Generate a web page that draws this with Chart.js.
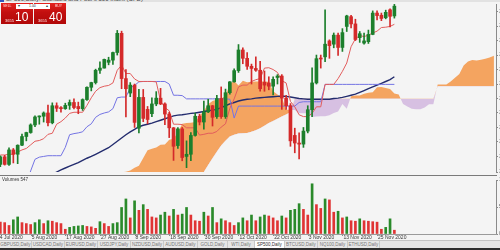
<!DOCTYPE html>
<html><head><meta charset="utf-8">
<script src="https://cdn.jsdelivr.net/npm/chart.js@4.4.1/dist/chart.umd.min.js"></script>
<style>
html,body{margin:0;padding:0;}
body{width:500px;height:250px;position:relative;overflow:hidden;background:#f4f4f4;font-family:"Liberation Sans",Arial,sans-serif;}
#title{position:absolute;left:0;top:0;width:500px;height:2px;background:#e2e2e2;overflow:hidden;z-index:3;}
#title span{position:absolute;left:6px;top:-4px;font-size:6px;color:#444;white-space:nowrap;}
#title i{position:absolute;left:0;top:0;width:4px;height:2px;background:#3355bb;}
#pc{position:absolute;left:0;top:0;}
#vc{position:absolute;left:0;top:176px;}
.hl{position:absolute;left:0;height:1px;width:497px;background:#8a8a8a;}
#otp{position:absolute;left:1px;top:3px;width:65px;height:21px;z-index:4;}
.box{position:absolute;top:0;width:32px;height:21px;background:linear-gradient(#e5221f,#c20f0f 45%,#b10808);color:#fff;}
.lab{position:absolute;top:1px;font-size:3.5px;color:#ffd0d0;}
.small{position:absolute;top:15px;font-size:4px;color:#ffe6e6;}
.big{position:absolute;top:8px;font-size:12px;line-height:12px;color:#fff;}
#lot{position:absolute;left:15px;top:1px;width:34px;height:5px;background:#fff;font-size:3.5px;line-height:5px;color:#333;z-index:5;}
#lot span{position:absolute;top:0;}
#vlab{position:absolute;left:2px;top:177px;font-size:4.5px;color:#333;z-index:3;}
#tabs{position:absolute;left:0;top:240px;width:500px;height:8px;background:#e6e6e6;border-top:1px solid #c4c4c4;box-sizing:border-box;}
.tab{position:absolute;top:0;height:7px;font-size:4.5px;line-height:7px;color:#777;text-align:center;border-right:1px solid #c8c8c8;box-sizing:border-box;white-space:nowrap;overflow:hidden;}
.tab.on{background:#fff;color:#333;}
#foot{position:absolute;left:0;top:248px;width:500px;height:2px;background:#2e2e2e;}
</style></head>
<body>
<div id="title"><i></i><span>SP500,Daily: Standard and Poor's 500 Index (CFD)</span></div>
<canvas id="pc" width="500" height="176"></canvas>
<div class="hl" style="top:175px;background:#7a7a7a"></div>
<canvas id="vc" width="500" height="64"></canvas>
<div class="hl" style="top:234px;background:#9a9a9a"></div>
<div id="vlab">Volumes 547</div>
<div id="otp">
  <div class="box" style="left:0"><span class="lab" style="left:2px">SELL</span><span class="small" style="left:4px">3655</span><span class="big" style="left:14px">10</span></div>
  <div class="box" style="left:33px"><span class="lab" style="left:21px">BUY</span><span class="small" style="left:4px">3655</span><span class="big" style="left:15px">40</span></div>
  <div id="lot"><span style="left:2px">&#9662;</span><span style="left:13px">1.00</span><span style="left:30px">&#9652;</span></div>
</div>
<div id="tabs">
  <div class="tab" style="left:0;width:32px">GBPUSD,Daily</div>
  <div class="tab" style="left:32px;width:33px">USDCAD,Daily</div>
  <div class="tab" style="left:65px;width:33px">EURUSD,Daily</div>
  <div class="tab" style="left:98px;width:33px">USDJPY,Daily</div>
  <div class="tab" style="left:131px;width:33px">NZDUSD,Daily</div>
  <div class="tab" style="left:164px;width:34px">AUDUSD,Daily</div>
  <div class="tab" style="left:198px;width:30px">GOLD,Daily</div>
  <div class="tab" style="left:228px;width:27px">WTI,Daily</div>
  <div class="tab on" style="left:255px;width:30px">SP500,Daily</div>
  <div class="tab" style="left:285px;width:33px">BTCUSD,Daily</div>
  <div class="tab" style="left:318px;width:30px">NQ100,Daily</div>
  <div class="tab" style="left:348px;width:32px">ETHUSD,Daily</div>
</div>
<div id="foot"></div>
<script>
const dates = ['27 Jul 2020','28 Jul 2020','29 Jul 2020','30 Jul 2020','31 Jul 2020','3 Aug 2020','4 Aug 2020','5 Aug 2020','6 Aug 2020','7 Aug 2020',
'10 Aug 2020','11 Aug 2020','12 Aug 2020','13 Aug 2020','14 Aug 2020','17 Aug 2020','18 Aug 2020','19 Aug 2020','20 Aug 2020','21 Aug 2020',
'24 Aug 2020','25 Aug 2020','26 Aug 2020','27 Aug 2020','28 Aug 2020','31 Aug 2020','1 Sep 2020','2 Sep 2020','3 Sep 2020','4 Sep 2020',
'7 Sep 2020','8 Sep 2020','9 Sep 2020','10 Sep 2020','11 Sep 2020','14 Sep 2020','15 Sep 2020','16 Sep 2020','17 Sep 2020','18 Sep 2020',
'21 Sep 2020','22 Sep 2020','23 Sep 2020','24 Sep 2020','25 Sep 2020','28 Sep 2020','29 Sep 2020','30 Sep 2020','1 Oct 2020','2 Oct 2020',
'5 Oct 2020','6 Oct 2020','7 Oct 2020','8 Oct 2020','9 Oct 2020','12 Oct 2020','13 Oct 2020','14 Oct 2020','15 Oct 2020','16 Oct 2020',
'19 Oct 2020','20 Oct 2020','21 Oct 2020','22 Oct 2020','23 Oct 2020','26 Oct 2020','27 Oct 2020','28 Oct 2020','29 Oct 2020','30 Oct 2020',
'2 Nov 2020','3 Nov 2020','4 Nov 2020','5 Nov 2020','6 Nov 2020','9 Nov 2020','10 Nov 2020','11 Nov 2020','12 Nov 2020','13 Nov 2020',
'16 Nov 2020','17 Nov 2020','18 Nov 2020','19 Nov 2020','20 Nov 2020','23 Nov 2020','24 Nov 2020','25 Nov 2020','26 Nov 2020','27 Nov 2020',
'30 Nov 2020','1 Dec 2020'];

const open = [3218,3239,3218,3258,3246,3271,3295,3306,3327,3349, 3351,3360,3333,3380,3373,3372,3381,3389,3378,3372,
3397,3431,3444,3478,3484,3500,3506,3527,3580,3455, 3415,3437,3318,3403,3370,3358,3385,3401,3385,3357,
3319,3270,3316,3240,3246,3298,3351,3335,3363,3380, 3350,3400,3350,3416,3446,3477,3534,3511,3489,3483,
3478,3445,3443,3434,3458,3462,3401,3380,3298,3277, 3274,3310,3369,3443,3510,3515,3559,3550,3575,3541,
3599,3626,3606,3568,3553,3557,3577,3636,3630,3623, 3645,3628];
const high = [3242,3243,3264,3262,3272,3302,3307,3330,3352,3352, 3363,3382,3388,3388,3378,3387,3396,3399,3390,3399,
3432,3445,3481,3501,3509,3514,3528,3588,3586,3480, 3444,3440,3425,3425,3378,3402,3419,3428,3388,3362,
3320,3320,3320,3283,3306,3360,3357,3393,3398,3381, 3409,3432,3426,3447,3482,3549,3540,3527,3495,3515,
3503,3476,3460,3460,3466,3466,3409,3386,3318,3305, 3320,3380,3485,3520,3520,3645,3562,3581,3581,3593,
3630,3630,3619,3585,3581,3589,3642,3642,3636,3644, 3648,3660];
const low = [3212,3216,3215,3222,3220,3270,3283,3304,3322,3329, 3335,3324,3330,3364,3362,3370,3370,3371,3358,3367,
3395,3421,3440,3469,3484,3493,3494,3520,3427,3349, 3405,3320,3305,3336,3330,3350,3380,3383,3328,3292,
3229,3262,3228,3209,3228,3296,3327,3315,3361,3324, 3345,3345,3345,3412,3445,3472,3496,3480,3440,3475,
3420,3420,3424,3410,3440,3370,3370,3268,3250,3233, 3265,3305,3350,3440,3484,3502,3511,3540,3519,3530,
3585,3595,3560,3555,3550,3552,3576,3617,3615,3620, 3598,3622];
const close = [3239,3218,3258,3246,3271,3295,3306,3327,3349,3351, 3360,3333,3380,3373,3372,3381,3389,3375,3372,3397,
3431,3444,3478,3484,3508,3506,3527,3580,3455,3427, 3437,3334,3403,3345,3342,3385,3401,3385,3357,3319,
3268,3316,3237,3246,3298,3351,3335,3363,3380,3348, 3400,3350,3416,3446,3477,3534,3511,3489,3483,3478,
3427,3437,3434,3453,3462,3401,3380,3283,3277,3274, 3310,3369,3443,3510,3509,3550,3546,3575,3541,3582,
3628,3606,3563,3579,3559,3577,3636,3629,3621,3638, 3627,3655];

const volume = [25000,24000,18000,30000,36000,24000,22000,20000,24000,30000,
22000,28000,27000,24000,22000,10000,14000,16000,17000,18000,
16000,15000,12000,26000,22000,16000,22000,24000,56000,74000,
34000,70000,50000,62000,52000,36000,34000,40000,46000,38000,
52000,40000,42000,56000,40000,28000,27000,46000,38000,56000,
24000,32000,28000,24000,18000,24000,34000,28000,40000,28000,
36000,40000,38000,34000,28000,38000,34000,50000,52000,64000,
52000,40000,106000,62000,54000,74000,72000,46000,48000,34000,
36000,28000,27000,32000,28000,27000,26000,25000,10000,14000,
32000,8000];

const tenkan = [3244,3244,3246,3246,3252,3258,3262,3272,3282,3284,
3289,3301,3304,3329,3336,3346,3359,3362,3362,3362,
3381,3402,3420,3430,3434,3436,3443,3478,3492,3469,
3469,3454,3447,3447,3447,3447,3446,3393,3375,3366,
3329,3329,3328,3319,3319,3319,3299,3301,3304,3304,
3309,3321,3330,3373,3399,3432,3437,3437,3447,3452,
3455,3484,3485,3480,3472,3449,3443,3392,3377,3355,
3350,3350,3359,3377,3377,3439,3439,3439,3455,3475,
3498,3543,3565,3574,3571,3575,3581,3586,3596,3597,
3599,3605];
const kijun = [3142,3142,3145,3150,3150,3160,3165,3200,3232,3238,
3240,3242,3242,3242,3242,3265,3300,3303,3305,3308,
3322,3330,3348,3356,3360,3363,3372,3402,3404,3404,
3429,3436,3446,3447,3447,3447,3447,3447,3447,3440,
3409,3409,3408,3399,3399,3399,3399,3399,3399,3399,
3399,3399,3399,3398,3346,3379,3379,3379,3379,3379,
3379,3379,3379,3379,3379,3379,3379,3379,3379,3389,
3391,3391,3391,3391,3391,3439,3439,3439,3439,3439,
3439,3439,3439,3439,3439,3439,3439,3439,3439,3439,
3439,3439];
const maStart = 12;
const ma = [3190,3197,3203,3208,3213,3218,3223,3229,3235,3240,
3246,3252,3258,3264,3273,3282,3291,3300,3308,3315,
3322,3326,3329,3332,3336,3340,3344,3348,3352,3354,
3355,3357,3359,3360,3362,3364,3366,3368,3370,3375,
3380,3385,3389,3393,3396,3398,3399,3401,3402,3403,
3404,3405,3406,3407,3406,3404,3402,3400,3399,3398,
3398,3398,3398,3398,3398,3400,3401,3403,3406,3409,
3412,3417,3422,3427,3432,3437,3442,3447,3452,3460];
const spanStart = 26;
const spanA = [3193,3193,3196,3198,3201,3209,3214,3236,3257,3261,
3265,3272,3273,3286,3289,3306,3330,3332,3333,3335,
3352,3366,3384,3393,3397,3400,3407,3440,3448,3436,
3449,3445,3446,3447,3447,3447,3446,3420,3411,3403,
3369,3369,3368,3359,3359,3359,3349,3350,3351,3351,
3354,3360,3364,3385,3372,3406,3408,3408,3413,3416,
3417,3431,3432,3429,3426,3414,3411,3385,3378,3372,
3370,3370,3375,3384,3384,3439,3439,3439,3447,3457,
3468,3491,3502,3506,3505,3507,3510,3513,3518];
const spanB = [3170,3170,3170,3170,3170,3170,3170,3170,3170,3170,
3170,3170,3170,3170,3170,3170,3170,3170,3170,3170,
3170,3197,3216,3235,3253,3270,3283,3295,3300,3303,
3304,3305,3308,3312,3318,3325,3332,3338,3344,3350,
3356,3362,3399,3399,3399,3399,3399,3399,3399,3399,
3399,3399,3399,3399,3399,3399,3399,3399,3399,3399,
3399,3399,3399,3399,3399,3399,3399,3399,3399,3399,
3399,3399,3399,3399,3399,3434,3434,3434,3434,3434,
3434,3434,3434,3434,3434,3434,3434,3434,3434];

const labelIdx = [-1,7,15,23,31,39,47,55,63,71,79,87];
const labelText = ['24 Jul 2020','5 Aug 2020','17 Aug 2020','27 Aug 2020','8 Sep 2020','18 Sep 2020','30 Sep 2020','12 Oct 2020','22 Oct 2020','3 Nov 2020','13 Nov 2020','25 Nov 2020'];

const X_MIN = -0.08, X_MAX = 114.47;
const UP = '#1c7f2c', DN = '#d42a2a';
const VUP = '#2a8a2a', VDN = '#e03434';

const bodies = open.map((o,i)=>({x:i, y:[Math.min(o,close[i]), Math.max(o,close[i])]}));
const wicks = low.map((l,i)=>({x:i, y:[l, high[i]]}));
const candleColors = open.map((o,i)=> close[i] >= o ? UP : DN);
const pts = (arr, start) => arr.map((v,i)=>({x:i+start, y:v}));
const volColors = volume.map((v,i)=> (i>0 && v>volume[i-1]) ? VUP : VDN);

const rightAxis = (min, max, step) => ({
  position:'right', min:min, max:max,
  afterFit: s => { s.width = 4; },
  ticks:{stepSize:step, font:{size:5}, color:'#555', padding:1},
  grid:{drawOnChartArea:false, tickLength:2, color:'#888'},
  border:{display:true, color:'#8a8a8a'}
});

// draws the time-scale labels at the x scale's pixel for each labelled bar
const dateLabels = {
  id:'dateLabels',
  afterDraw(chart){
    const xs = chart.scales.x, ctx = chart.ctx, y0 = chart.chartArea.bottom + 1;
    ctx.save();
    ctx.font = '5px "Liberation Sans", Arial, sans-serif';
    ctx.fillStyle = '#3a3a3a';
    ctx.textAlign = 'left';
    ctx.textBaseline = 'top';
    ctx.strokeStyle = '#8a8a8a';
    ctx.lineWidth = 1;
    labelIdx.forEach((v,k)=>{
      const px = xs.getPixelForValue(v);
      ctx.beginPath(); ctx.moveTo(Math.round(px)+0.5, y0-1); ctx.lineTo(Math.round(px)+0.5, y0+1); ctx.stroke();
      ctx.fillText(labelText[k], px + 1, y0);
    });
    ctx.restore();
  }
};

new Chart(document.getElementById('pc'), {
  type:'bar',
  data:{datasets:[
    {type:'bar', label:'Bodies', data:bodies, backgroundColor:candleColors, barThickness:3, grouped:false, minBarLength:1, order:0},
    {type:'bar', label:'Wicks', data:wicks, backgroundColor:candleColors, barThickness:1, grouped:false, order:1},
    {type:'line', label:'Tenkan-sen', data:pts(tenkan,0), borderColor:'#e25c5c', borderWidth:1, pointRadius:0, tension:0, order:2},
    {type:'line', label:'Kijun-sen', data:pts(kijun,0), borderColor:'#7373e3', borderWidth:1, pointRadius:0, tension:0, order:3},
    {type:'line', label:'MA', data:pts(ma,maStart), borderColor:'#232c6e', borderWidth:1.4, pointRadius:0, tension:0, order:4},
    {type:'line', label:'Senkou Span B', data:pts(spanB,spanStart), borderWidth:0, borderColor:'rgba(0,0,0,0)', pointRadius:0, tension:0, fill:false, order:5},
    {type:'line', label:'Senkou Span A', data:pts(spanA,spanStart), borderWidth:0, borderColor:'rgba(0,0,0,0)', pointRadius:0, tension:0,
      fill:{target:5, above:'#f4a460', below:'#d7c0e2'}, order:6}
  ]},
  options:{
    responsive:false, animation:false,
    layout:{padding:{top:2, bottom:1, left:0, right:0}},
    plugins:{legend:{display:false}, tooltip:{enabled:false}},
    scales:{
      x:{type:'linear', min:X_MIN, max:X_MAX, offset:false, display:false},
      y:rightAxis(3197, 3661, 20)
    }
  }
});

new Chart(document.getElementById('vc'), {
  type:'bar',
  data:{datasets:[
    {label:'Volumes', data:pts(volume,0), backgroundColor:volColors, barThickness:2, grouped:false}
  ]},
  options:{
    responsive:false, animation:false,
    layout:{padding:{top:1, bottom:6, left:0, right:0}},
    plugins:{legend:{display:false}, tooltip:{enabled:false}},
    scales:{
      x:{type:'linear', min:X_MIN, max:X_MAX, offset:false, display:false},
      y:rightAxis(0, 114000, 57000)
    }
  },
  plugins:[dateLabels]
});
</script>
</body></html>
